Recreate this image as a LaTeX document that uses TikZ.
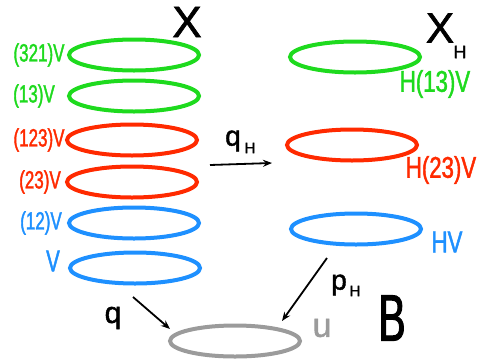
\documentclass[tikz,border=0pt]{standalone}
\usepackage{fontspec}
\setmainfont{Liberation Sans}
\newfontfamily\hand[FakeStretch=0.68,FakeBold=1.5]{Liberation Sans}
\newfontfamily\handw[FakeStretch=0.74,FakeBold=1.5]{Liberation Sans}
\newfontfamily\handb[FakeStretch=0.62,FakeBold=1.5]{Liberation Sans}
\newfontfamily\handn[FakeBold=1.5]{Liberation Sans}
\usetikzlibrary{shapes.geometric,arrows.meta}
\definecolor{gr}{RGB}{30,218,30}
\definecolor{rd}{RGB}{255,42,0}
\definecolor{bl}{RGB}{30,144,255}
\definecolor{gy}{RGB}{155,155,155}
\begin{document}
\begin{tikzpicture}[x=1pt,y=-1pt,
  ring/.style={ellipse, draw=#1, line width=4pt, minimum width=130pt, minimum height=31pt, inner sep=0pt},
  lab/.style={inner sep=0pt, anchor=center},
  lsm/.style={lab, font=\hand\fontsize{25}{25}\selectfont},
  lbg/.style={lab, font=\handw\fontsize{30}{30}\selectfont},
  arr/.style={-{Stealth[length=9pt,width=7pt]}, line width=1.8pt, black}]
\useasboundingbox (0,0) rectangle (479,362);
% left stack
\node[ring=gr] (L1) at (134,55) {};
\node[ring=gr] (L2) at (134,96) {};
\node[ring=rd] (L3) at (132,140) {};
\node[ring=rd] (L4) at (132,182) {};
\node[ring=bl] (L5) at (134,223) {};
\node[ring=bl] (L6) at (135,268) {};
% right stack
\node[ring=gr] (R1) at (355,57) {};
\node[ring=rd] (R2) at (352,145) {};
\node[ring=bl] (R3) at (356,229) {};
% base
\node[ring=gy] (B0) at (235,341) {};
% left labels
\node[lsm, text=gr] (t1) at (39,55) {(321)V};
\node[lsm, text=gr] (t2) at (34,96) {(13)V};
\node[lsm, text=rd] (t3) at (39,140) {(123)V};
\node[lsm, text=rd] (t4) at (40,182) {(23)V};
\node[lsm, text=bl] (t5) at (41,223) {(12)V};
\node[lab, text=bl, font=\hand\fontsize{30}{30}\selectfont] (t6) at (53,261) {V};
% right labels
\node[lbg, text=gr] (r1) at (435,84) {H(13)V};
\node[lbg, text=rd] (r2) at (441,170) {H(23)V};
\node[lbg, text=bl] (r3) at (447,242) {HV};
% titles
\node[lab, font=\handn\fontsize{44}{44}\selectfont] (X) at (187,22) {X};
\node[lab, font=\handn\fontsize{42}{42}\selectfont] (XH) at (440,28) {X};
\node[lab, font=\handn\fontsize{18}{18}\selectfont] (XHs) at (460,52) {H};
\node[lab, font=\handb\fontsize{66}{66}\selectfont] (Bl) at (392,318) {B};
\node[lab, text=gy, font=\handn\fontsize{34}{34}\selectfont] (u) at (322,328) {u};
% maps
\coordinate (qHs) at (210,165);
\coordinate (qHe) at (272,163);
\draw[arr] (qHs) -- (qHe);
\node[lab, font=\handn\fontsize{28}{28}\selectfont] (qH) at (233,141) {q};
\node[lab, font=\handn\fontsize{15}{15}\selectfont] (qHsub) at (250,148) {H};
\coordinate (qs) at (133,297);
\coordinate (qe) at (170,329);
\draw[arr] (qs) -- (qe);
\node[lab, font=\handn\fontsize{30}{30}\selectfont] (q) at (113,318) {q};
\coordinate (ps) at (327,258);
\coordinate (pe) at (282,321);
\draw[arr] (ps) -- (pe);
\node[lab, font=\handn\fontsize{28}{28}\selectfont] (p) at (339,285) {p};
\node[lab, font=\handn\fontsize{15}{15}\selectfont] (psub) at (355,291) {H};
\end{tikzpicture}
\end{document}
